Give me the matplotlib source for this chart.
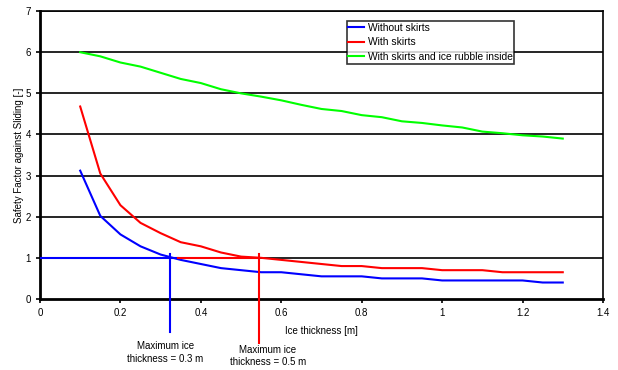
import matplotlib

matplotlib.use("Agg")
import matplotlib.pyplot as plt

plt.rcParams["font.family"] = ["Liberation Sans", "DejaVu Sans"]

thickness = [0.1, 0.15, 0.2, 0.25, 0.3, 0.35, 0.4, 0.45, 0.5, 0.55, 0.6, 0.65, 0.7,
             0.75, 0.8, 0.85, 0.9, 0.95, 1.0, 1.05, 1.1, 1.15, 1.2, 1.25, 1.3]
no_skirts = [3.12, 2.02, 1.57, 1.28, 1.08, 0.95, 0.85, 0.75, 0.7, 0.65, 0.65, 0.6, 0.55,
             0.55, 0.55, 0.5, 0.5, 0.5, 0.45, 0.45, 0.45, 0.45, 0.45, 0.4, 0.4]
skirts = [4.68, 3.05, 2.28, 1.85, 1.6, 1.38, 1.28, 1.13, 1.03, 1.0, 0.95, 0.9, 0.85,
          0.8, 0.8, 0.75, 0.75, 0.75, 0.7, 0.7, 0.7, 0.65, 0.65, 0.65, 0.65]
skirts_rubble = [6.0, 5.9, 5.75, 5.65, 5.5, 5.35, 5.25, 5.1, 5.0, 4.92, 4.83, 4.72, 4.62,
                 4.57, 4.47, 4.42, 4.32, 4.28, 4.22, 4.17, 4.07, 4.03, 3.98, 3.95, 3.9]
max_ice = [0.323, 0.545]
max_labels = ["Maximum ice\nthickness = 0.3 m", "Maximum ice\nthickness = 0.5 m"]

fig = plt.figure(figsize=(6.18, 3.7), dpi=100)
ax = fig.add_axes([0.0647, 0.192, 0.911, 0.778])

for y in range(1, 8):
    ax.axhline(y, color="black", lw=1.2, zorder=1)

ax.plot(thickness, no_skirts, color="#0000ff", lw=1.5, label="Without skirts", zorder=3)
ax.plot(thickness, skirts, color="#ff0000", lw=1.5, label="With skirts", zorder=3)
ax.plot(thickness, skirts_rubble, color="#00ff00", lw=1.5,
        label="With skirts and ice rubble inside", zorder=3)

# limit lines at SF = 1
ax.plot([0, max_ice[0] + 0.02], [1, 1], color="#0000ff", lw=1.5, zorder=4)
ax.plot([max_ice[0] + 0.02, max_ice[1]], [1, 1], color="#ff0000", lw=1.5, zorder=4)
ax.plot([max_ice[0], max_ice[0]], [1.1, -0.8], color="#0000ff", lw=1.5,
        clip_on=False, zorder=4)
ax.plot([max_ice[1], max_ice[1]], [1.1, -1.07], color="#ff0000", lw=1.5,
        clip_on=False, zorder=4)
ax.text(0.312, -1.03, max_labels[0], ha="center", va="top", fontsize=7,
        linespacing=1.35)
ax.text(0.567, -1.11, max_labels[1], ha="center", va="top", fontsize=7,
        linespacing=1.35)

ax.set_xlim(0, 1.4)
ax.set_ylim(0, 7)
ax.set_xticks([0, 0.2, 0.4, 0.6, 0.8, 1, 1.2, 1.4])
ax.set_xticklabels(["0", "0.2", "0.4", "0.6", "0.8", "1", "1.2", "1.4"])
ax.set_yticks(range(0, 8))
ax.tick_params(labelsize=7, length=3, width=1.2, direction="out")
ax.set_xlabel("Ice thickness [m]", fontsize=7, labelpad=6)
ax.set_ylabel("Safety Factor against Sliding [-]", fontsize=7, labelpad=1)
for s in ax.spines.values():
    s.set_linewidth(1.2)
ax.spines["left"].set_linewidth(2)
ax.spines["bottom"].set_linewidth(2)

leg = ax.legend(loc="upper left", bbox_to_anchor=(0.545, 0.965), fontsize=7.4,
                frameon=True, fancybox=False, edgecolor="black", handlelength=1.5,
                handletextpad=0.4, borderpad=0.15, labelspacing=0.45, borderaxespad=0)
leg.get_frame().set_linewidth(1.2)

fig.savefig("out.png", dpi=100)
